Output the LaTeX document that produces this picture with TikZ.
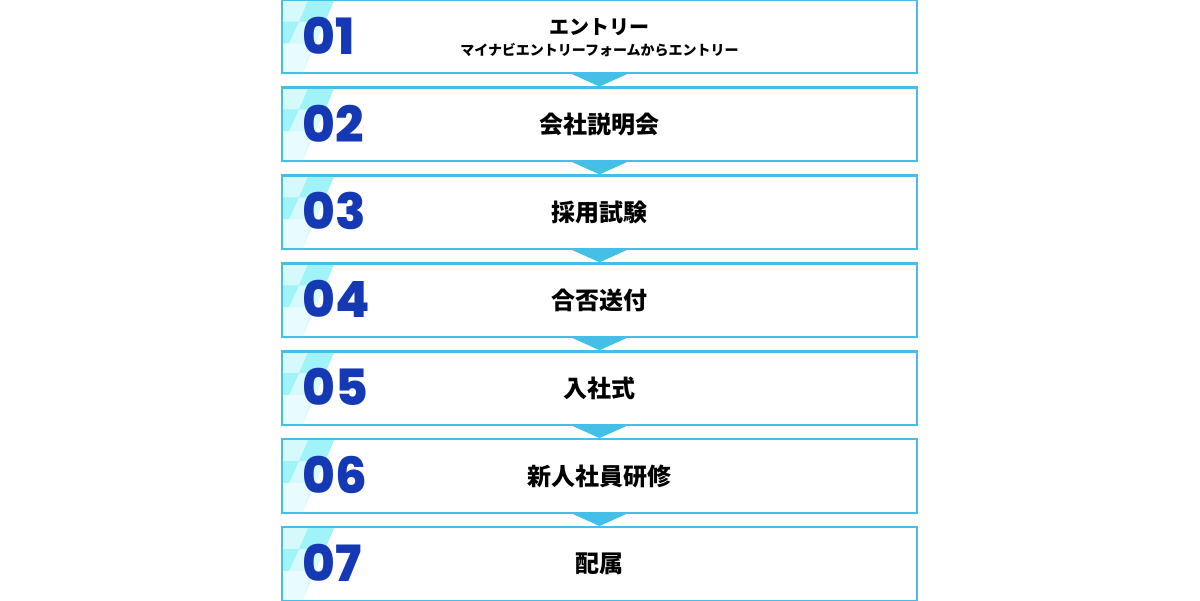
\documentclass[tikz,border=0pt]{standalone}
\usepackage{fontspec}
\usetikzlibrary{calc}
\newfontfamily\jpfont{Noto Sans CJK JP}
\newfontfamily\numfont{Poppins}[BoldFont={* ExtraBold}]
\definecolor{flowblue}{RGB}{69,190,232}
\definecolor{numblue}{RGB}{21,57,181}
\definecolor{stripea}{RGB}{214,250,252}
\definecolor{stripeb}{RGB}{160,243,248}
\definecolor{stripec}{RGB}{232,252,253}
\tikzset{
  stepbox/.style={draw=flowblue, line width=2.4pt, inner sep=0pt,
    minimum width=634.6pt, minimum height=73.5pt},
  stepnum/.style={font=\numfont\bfseries\fontsize{50}{50}\selectfont, text=numblue, inner sep=0pt, anchor=west},
  steptitle/.style={font=\jpfont\bfseries\fontsize{#1}{#1}\selectfont, inner sep=0pt},
  stepnote/.style={font=\jpfont\bfseries\fontsize{14}{14}\selectfont, inner sep=0pt},
  steparrow/.style={fill=flowblue}
}

\begin{document}
\begin{tikzpicture}[x=1pt, y=-1pt]
  \useasboundingbox (0,0) rectangle (1200,601);
  % boxes
  \foreach \n/\title/\fs/\dy [count=\i from 0] in {01/エントリー/20/-9.5, 02/会社説明会/24/0,
      03/採用試験/24/0, 04/合否送付/24/0, 05/入社式/24/0, 06/新人社員研修/24/0, 07/配属/24/0} {
    \pgfmathsetmacro\top{-1.4+87.9*\i}
    \begin{scope}
      \clip (281,\top) rectangle (918,\top+75.9);
      \fill[stripea] (281,\top) -- (335,\top) -- (302,\top+76) -- (281,\top+76) -- cycle;
      \fill[stripeb] (309,\top) -- (335,\top) -- (325,\top+23) -- (299,\top+23) -- cycle;
      \fill[stripeb] (281,\top+23) -- (299,\top+23) -- (289,\top+45) -- (281,\top+45) -- cycle;
      \fill[stripec] (281,\top+45) -- (312,\top+45) -- (302,\top+76) -- (281,\top+76) -- cycle;
    \end{scope}
    \node[stepbox] (box\n) at (599.5, \top+37.95) {};
    \node[stepnum] (num\n) at ($(box\n.west)+(21,-1)$) {\n};
    \node[steptitle=\fs] (title\n) at ($(box\n.center)+(0,\dy)$) {\title};
  }
  \node[stepnote] (note01) at ($(box01.center)+(0,13.5)$) {マイナビエントリーフォームからエントリー};
  % arrows
  \foreach \a/\b in {01/02, 02/03, 03/04, 04/05, 05/06, 06/07}
    \fill[steparrow] ($(box\a.south)+(-29,-1)$) -- ($(box\a.south)+(29,-1)$) -- (box\b.north) -- cycle;
\end{tikzpicture}
\end{document}
